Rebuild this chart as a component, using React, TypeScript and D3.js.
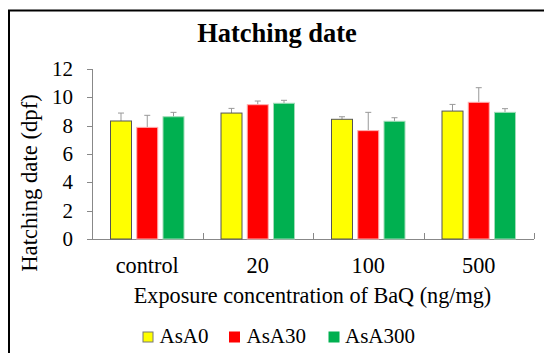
import React, { useRef, useEffect } from 'react';
import * as d3 from 'd3';

const categories = ['control', '20', '100', '500'];
const seriesNames = ['AsA0', 'AsA30', 'AsA300'];
const seriesColors = ['#ffff00', '#ff0000', '#00b050'];
const seriesStrokes = ['#555555', '#ffb0b0', '#a0dcb8'];
const asa0 = [8.33, 8.89, 8.45, 9.03];
const asa30 = [7.88, 9.48, 7.65, 9.65];
const asa300 = [8.63, 9.58, 8.31, 8.94];
const err0 = [0.56, 0.33, 0.18, 0.47];
const err30 = [0.85, 0.26, 1.29, 1.03];
const err300 = [0.31, 0.21, 0.25, 0.26];
const yTicks = [0, 2, 4, 6, 8, 10, 12];

const W = 544;
const H = 353;

const App = () => {
    const svgRef = useRef<SVGSVGElement>(null);

    useEffect(() => {
        const svg = d3.select(svgRef.current);
        svg.selectAll('*').remove();
        const font = "'Liberation Serif', serif";

        // frame (only top and left edges are visible in the crop)
        svg.append('path')
            .attr('d', `M9,${H} L9,10.5 L${W},10.5`)
            .attr('fill', 'none')
            .attr('stroke', '#000')
            .attr('stroke-width', 2);

        const x = d3.scaleBand().domain(categories).range([92, 534]);
        const y = d3.scaleLinear().domain([0, 12]).range([239, 69]);
        const inner = d3.scaleBand().domain(seriesNames).range([0, 73.5]).paddingInner(0.2);
        const offset = (x.bandwidth() - 73.5) / 2;

        const g = svg.append('g').attr('font-family', font).attr('fill', '#000');

        g.append('text')
            .attr('x', 277).attr('y', 42)
            .attr('text-anchor', 'middle')
            .attr('font-weight', 'bold')
            .attr('font-size', 26.5)
            .text('Hatching date');

        // y axis
        const axisColor = '#888';
        g.append('line')
            .attr('x1', 92.5).attr('x2', 92.5)
            .attr('y1', y(12)).attr('y2', y(0))
            .attr('stroke', axisColor);
        yTicks.forEach(t => {
            g.append('line')
                .attr('x1', 87).attr('x2', 92.5)
                .attr('y1', Math.round(y(t)) + 0.5).attr('y2', Math.round(y(t)) + 0.5)
                .attr('stroke', axisColor);
            g.append('text')
                .attr('x', 73).attr('y', y(t) + 7)
                .attr('text-anchor', 'end')
                .attr('font-size', 21)
                .text(t);
        });

        g.append('text')
            .attr('transform', `translate(36.5,183) rotate(-90)`)
            .attr('text-anchor', 'middle')
            .attr('font-size', 22.7)
            .text('Hatching date (dpf)');

        // x axis
        g.append('line')
            .attr('x1', 92).attr('x2', 534)
            .attr('y1', y(0) + 0.5).attr('y2', y(0) + 0.5)
            .attr('stroke', axisColor);
        categories.forEach(c => {
            const bx = (x(c) as number) + x.bandwidth();
            g.append('line')
                .attr('x1', Math.round(bx) + 0.5).attr('x2', Math.round(bx) + 0.5)
                .attr('y1', y(0) - 6).attr('y2', y(0))
                .attr('stroke', axisColor);
            g.append('text')
                .attr('x', (x(c) as number) + x.bandwidth() / 2).attr('y', 273)
                .attr('text-anchor', 'middle')
                .attr('font-size', 22.3)
                .text(c);
        });

        g.append('text')
            .attr('x', 312.5).attr('y', 303)
            .attr('text-anchor', 'middle')
            .attr('font-size', 22.2)
            .text('Exposure concentration of BaQ (ng/mg)');

        // bars
        const values = [asa0, asa30, asa300];
        const errors = [err0, err30, err300];
        seriesNames.forEach((s, si) => {
            categories.forEach((c, ci) => {
                const bx = (x(c) as number) + offset + (inner(s) as number);
                const bw = inner.bandwidth();
                const v = values[si][ci];
                const e = errors[si][ci];
                const cx = bx + bw / 2;
                g.append('line')
                    .attr('x1', cx).attr('x2', cx)
                    .attr('y1', y(v)).attr('y2', y(v + e))
                    .attr('stroke', '#999');
                g.append('line')
                    .attr('x1', cx - 3).attr('x2', cx + 3)
                    .attr('y1', y(v + e)).attr('y2', y(v + e))
                    .attr('stroke', '#999');
                g.append('rect')
                    .attr('x', bx).attr('y', y(v))
                    .attr('width', bw).attr('height', y(0) - y(v))
                    .attr('fill', seriesColors[si])
                    .attr('stroke', seriesStrokes[si])
                    .attr('stroke-width', 1);
            });
        });

        // legend
        const legendX = [143, 229.5, 329];
        const legendTextX = [159.5, 246.5, 345];
        seriesNames.forEach((s, si) => {
            g.append('rect')
                .attr('x', legendX[si]).attr('y', 332)
                .attr('width', 10).attr('height', 10)
                .attr('fill', seriesColors[si])
                .attr('stroke', si === 0 ? '#777' : seriesColors[si]);
            g.append('text')
                .attr('x', legendTextX[si]).attr('y', 342.5)
                .attr('font-size', 21)
                .text(s);
        });
    }, []);

    return (
        <svg ref={svgRef} width={W} height={H}
            style={{ position: 'absolute', left: 0, top: 0, background: '#fff' }} />
    );
};

export default App;
